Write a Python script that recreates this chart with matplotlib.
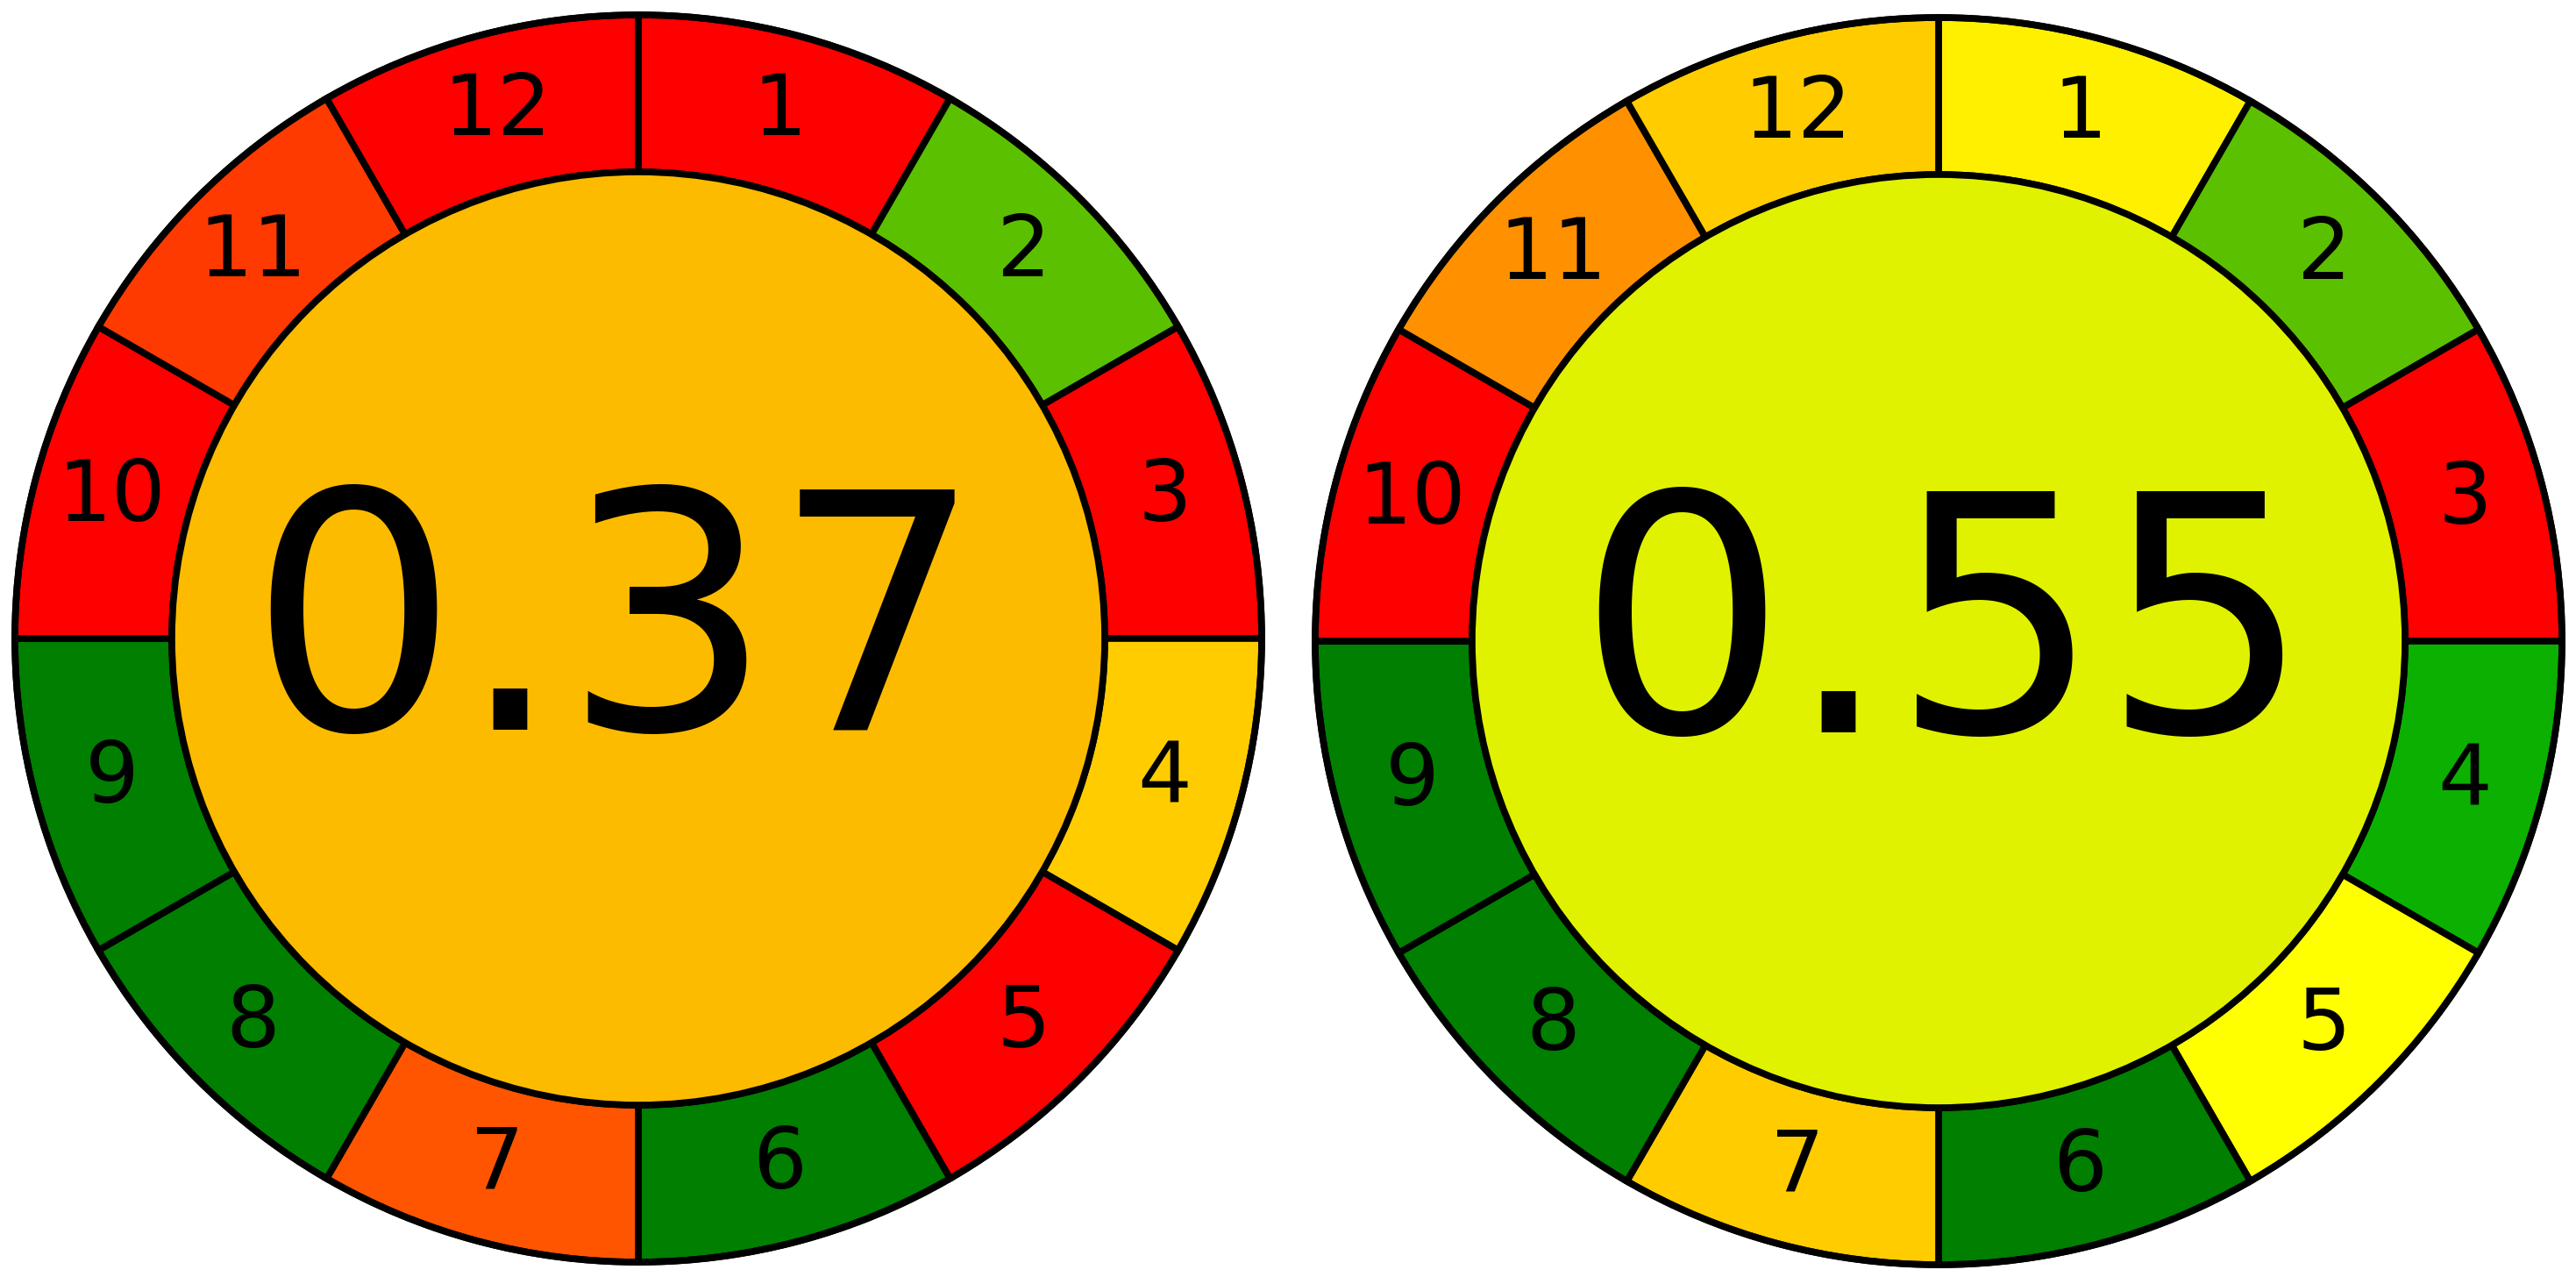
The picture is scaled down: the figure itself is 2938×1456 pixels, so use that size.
import numpy as np
import matplotlib.pyplot as plt
from matplotlib.patches import Wedge, Circle

# two pictograms, 12 criteria each
criteria = [str(i) for i in range(1, 13)]
scores = [0.37, 0.55]
centre_colors = ['#FDBB00', '#E0F200']
left_colors = ['#FF0000', '#5BC000', '#FF0000', '#FFCC00', '#FF0000', '#007F00',
               '#FF5500', '#007F00', '#007F00', '#FF0000', '#FF3A00', '#FF0000']
right_colors = ['#FFF000', '#5BC000', '#FF0000', '#0BB000', '#FFFF00', '#007F00',
                '#FFCC00', '#007F00', '#007F00', '#FF0000', '#FF9000', '#FFCC00']
segment_colors = [left_colors, right_colors]

W, H = 2938, 1456
fig = plt.figure(figsize=(W / 100, H / 100), dpi=100)
ax = fig.add_axes([0, 0, 1, 1])
ax.set_xlim(0, W)
ax.set_ylim(0, H)
ax.set_aspect('equal')
ax.axis('off')

centres = [(728, 728), (2211, 725)]
r_out = 711
r_in = 532
lw = 5.5
text_shift = [-26, 6]

for k in range(2):
    cx, cy = centres[k]
    for i in range(12):
        t2 = 90 - 30 * i
        t1 = t2 - 30
        ax.add_patch(Wedge((cx, cy), r_out, t1, t2, width=r_out - r_in,
                           facecolor=segment_colors[k][i], edgecolor='black', linewidth=lw))
        a = np.deg2rad(t2 - 15)
        rm = (r_out + r_in) / 2
        ax.text(cx + rm * np.cos(a), cy + rm * np.sin(a), criteria[i],
                ha='center', va='center', fontsize=70, color='black')
    ax.add_patch(Circle((cx, cy), r_in, facecolor=centre_colors[k], edgecolor='black', linewidth=lw))
    ax.add_patch(Circle((cx, cy), r_out, facecolor='none', edgecolor='black', linewidth=lw))
    ax.text(cx + text_shift[k], cy, '{:.2f}'.format(scores[k]), ha='center', va='center',
            fontsize=271, color='black')

plt.savefig('out.png', dpi=100)
